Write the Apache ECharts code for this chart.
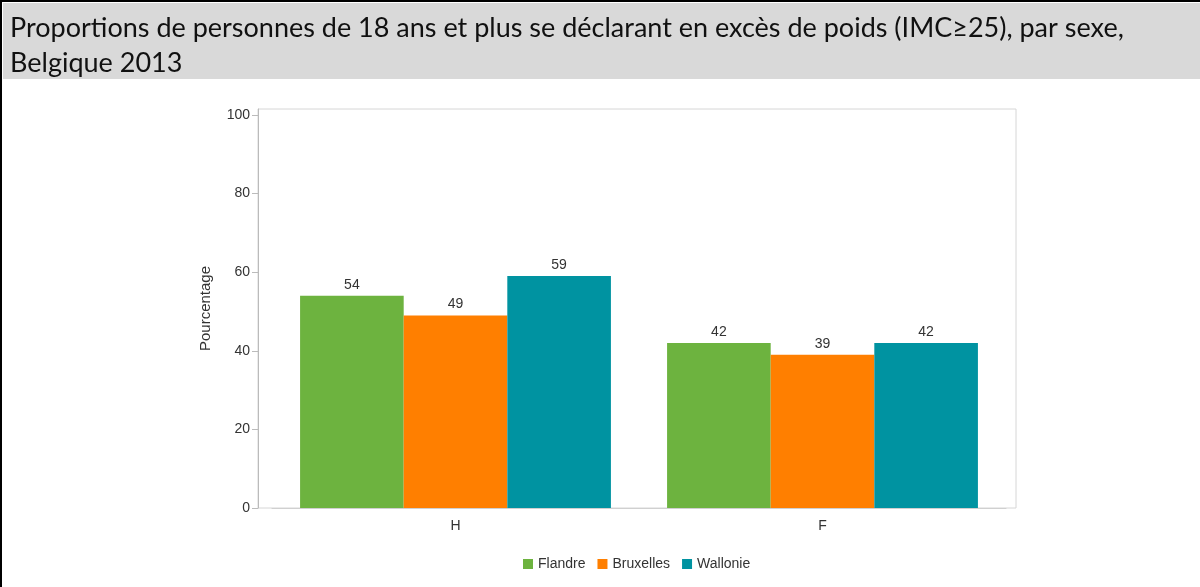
<!DOCTYPE html>
<html>
<head>
<meta charset="utf-8">
<script src="https://cdn.jsdelivr.net/npm/echarts@6/dist/echarts.min.js"></script>
<style>
  html, body { margin: 0; padding: 0; background: #fff; }
  #chart { width: 1200px; height: 587px; }
</style>
</head>
<body>
<div id="chart"></div>
<script>
// données
const sexes = ['H', 'F'];
const regions = ['Flandre', 'Bruxelles', 'Wallonie'];
const flandre = [54, 42];
const bruxelles = [49, 39];
const wallonie = [59, 42];
const yTicks = [0, 20, 40, 60, 80, 100];

const couleurs = ['#6db33f', '#ff7f00', '#0093a1'];

const chart = echarts.init(document.getElementById('chart'));

const serie = (name, data, i) => ({
  name: name,
  type: 'bar',
  data: data,
  barGap: 0,
  barCategoryGap: '15.3%',
  itemStyle: { color: couleurs[i] },
  label: {
    show: true,
    position: 'top',
    distance: 4,
    color: '#333',
    fontSize: 14
  }
});

chart.setOption({
  animation: false,
  textStyle: { fontFamily: 'Liberation Sans' },
  title: {
    text: 'Proportions de personnes de 18 ans et plus se déclarant en excès de poids (IMC≥25), par sexe,\nBelgique 2013',
    left: 5,
    top: 6,
    textStyle: {
      fontFamily: 'Lato',
      fontWeight: 'normal',
      fontSize: 27,
      lineHeight: 35,
      color: '#111'
    }
  },
  graphic: [
    { type: 'rect', z: -10, shape: { x: 3, y: 3, width: 1197, height: 76 }, style: { fill: '#d9d9d9' } },
    { type: 'rect', z: -5, shape: { x: 0, y: 0, width: 1200, height: 2 }, style: { fill: '#000' } },
    { type: 'rect', z: -5, shape: { x: 0, y: 0, width: 2, height: 587 }, style: { fill: '#000' } },
    { type: 'rect', z: -5, shape: { x: 258, y: 109, width: 758, height: 399 }, style: { fill: 'none', stroke: '#d6d6d6', lineWidth: 1 } }
  ],
  legend: {
    data: regions,
    top: 552,
    left: 518,
    icon: 'rect',
    itemWidth: 10,
    itemHeight: 10,
    itemGap: 12,
    textStyle: { fontSize: 14, color: '#333' }
  },
  grid: { left: 272, right: 194, top: 109, bottom: 79 },
  xAxis: {
    type: 'category',
    data: sexes,
    axisLine: { show: true, lineStyle: { color: '#d0d0d0' } },
    axisTick: { alignWithLabel: true, length: 6, lineStyle: { color: '#bbb' } },
    axisLabel: { fontSize: 14, color: '#333', margin: 11 }
  },
  yAxis: {
    type: 'value',
    min: 0,
    max: 101.5,
    offset: 14,
    name: 'Pourcentage',
    nameLocation: 'middle',
    nameGap: 45,
    nameTextStyle: { fontSize: 15, color: '#333' },
    axisLine: { show: true, lineStyle: { color: '#bbb' } },
    axisTick: { show: true, length: 6, customValues: yTicks, lineStyle: { color: '#bbb' } },
    axisLabel: { fontSize: 14, color: '#333', margin: 8, customValues: yTicks },
    splitLine: { show: false }
  },
  series: [
    serie('Flandre', flandre, 0),
    serie('Bruxelles', bruxelles, 1),
    serie('Wallonie', wallonie, 2)
  ]
});
</script>
</body>
</html>
